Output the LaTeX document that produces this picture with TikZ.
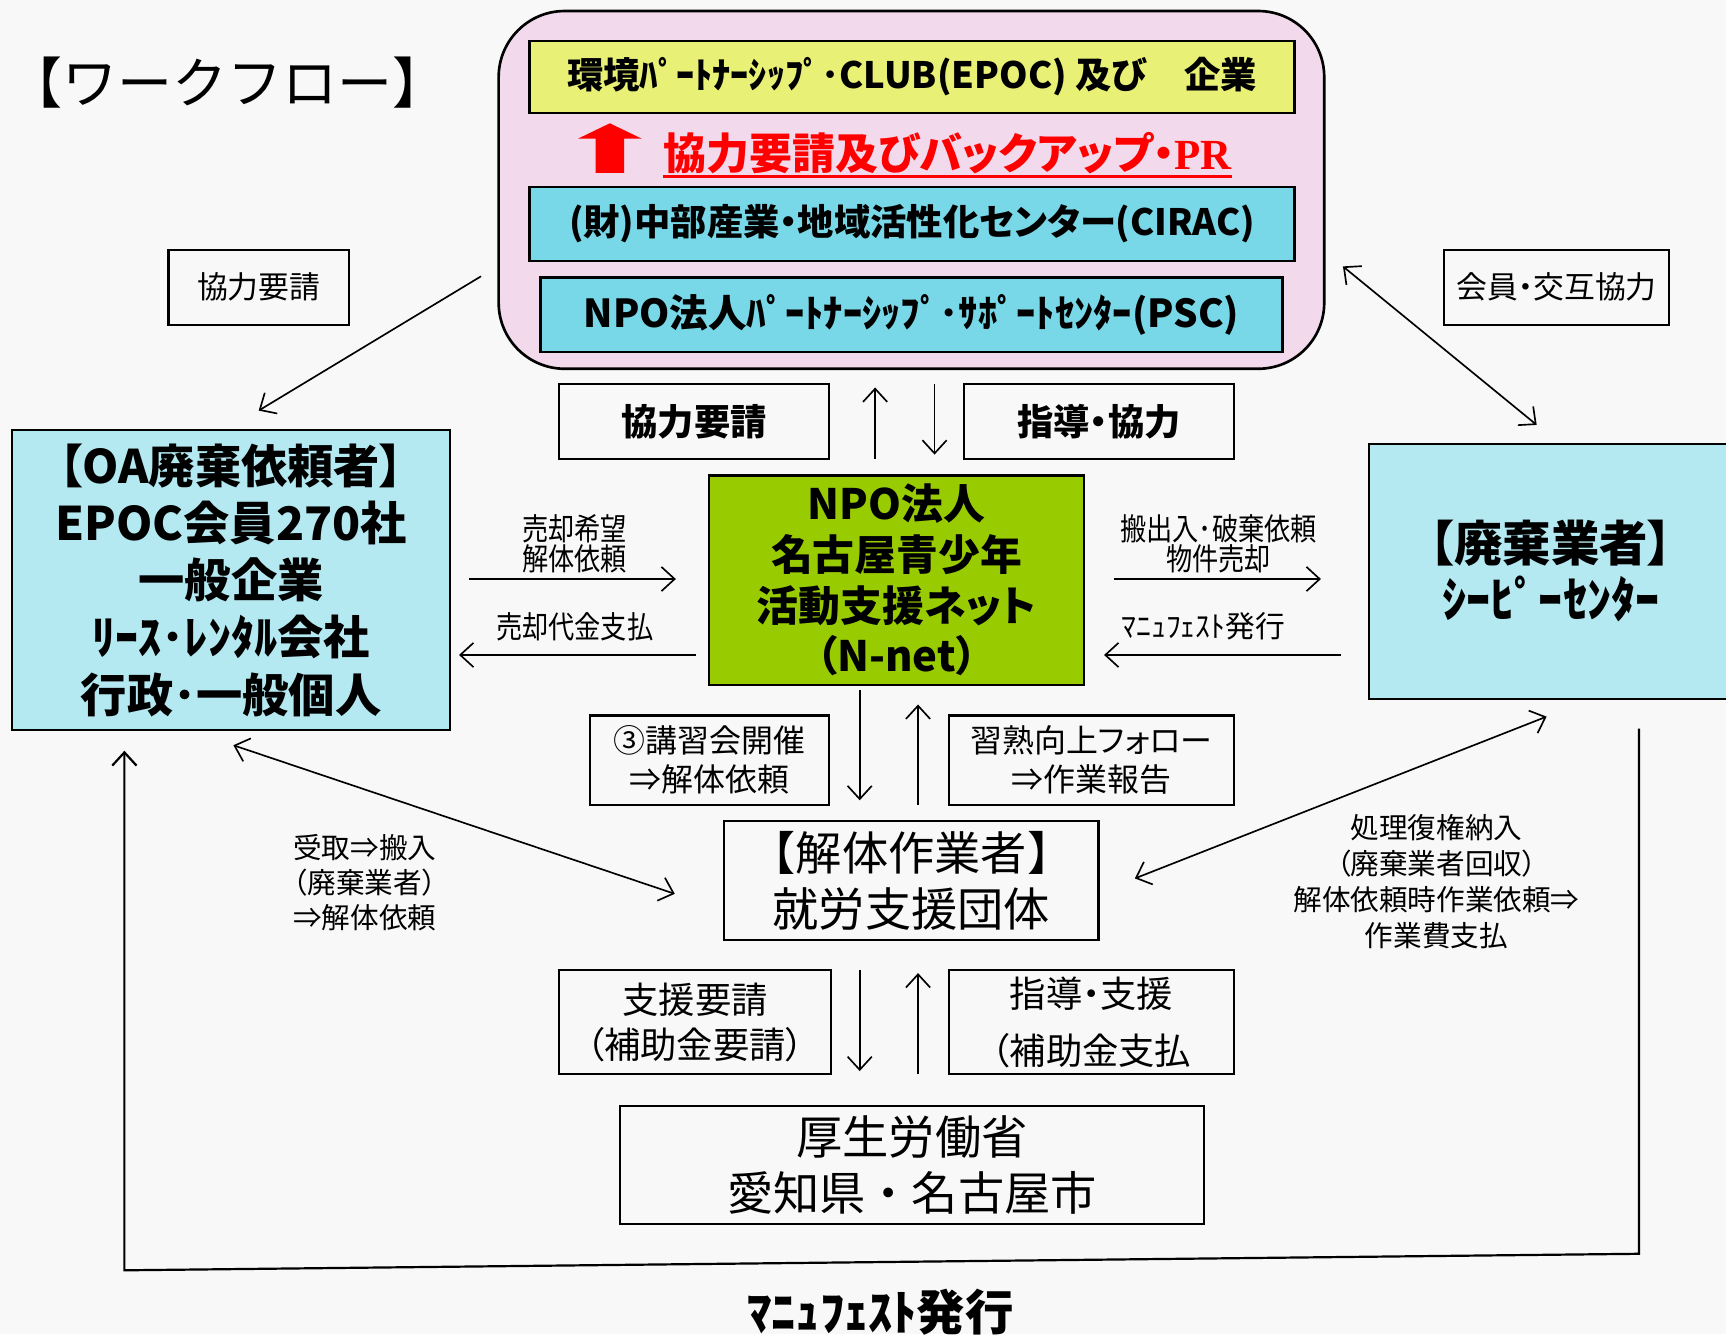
\documentclass[tikz,border=0pt]{standalone}
\usepackage{fontspec}
\usetikzlibrary{arrows.meta}
\newfontfamily\jp{Noto Sans CJK JP}
\newfontfamily\jpp{Noto Sans CJK JP}[RawFeature=+palt]
\newfontfamily\jpc{Noto Sans CJK JP}[RawFeature=+palt,FakeStretch=0.85]
\newfontfamily\lserb{Liberation Serif}[Scale=1.0]
\definecolor{bgc}{HTML}{F8F8F8}
\definecolor{pinkc}{HTML}{F2D9EB}
\definecolor{yellowc}{HTML}{E8F075}
\definecolor{cyanc}{HTML}{78D8E8}
\definecolor{lightc}{HTML}{B4E9F1}
\definecolor{greenc}{HTML}{99CC00}
\newcommand{\fs}[2]{\fontsize{#1}{#2}\selectfont}
\begin{document}
\begin{tikzpicture}[x=0.5pt,y=-0.5pt,
  box/.style={draw=black,line width=1pt,inner sep=0pt,align=center},
  lbl/.style={inner sep=0pt,align=center},
  arr/.style={line width=0.75pt,-{Straight Barb[length=6pt,width=11pt]}},
  darr/.style={line width=0.75pt,{Straight Barb[length=6pt,width=11pt]}-{Straight Barb[length=6pt,width=11pt]}}]
\fill[bgc] (0,0) rectangle (1568,1212);
\useasboundingbox (0,0) rectangle (1568,1212);

% title
\node[lbl,font={\jp\fs{25pt}{28pt}}] (title) at (207,75) {【ワークフロー】};

% top group
\node[draw=black,line width=1.2pt,fill=pinkc,rounded corners=30pt,minimum width=375pt,minimum height=162.5pt,inner sep=0pt] (group) at (828,172.5) {};
\node[box,fill=yellowc,minimum width=347.5pt,minimum height=33pt,font={\jp\bfseries\fs{16.5pt}{20pt}}] (epoc) at (828.5,70) {環境ﾊﾟｰﾄﾅｰｼｯﾌﾟ･CLUB(EPOC) 及び　企業};
\fill[red] (525,126) -- (554,112) -- (583,126) -- (567,126) -- (567,157) -- (541,157) -- (541,126) -- cycle;
\node[lbl,text=red,font={\jpp\bfseries\fs{19.5pt}{24pt}}] (redt) at (861,139) {協力要請及びバックアップ・{\lserb\bfseries PR}};
\draw[red,line width=1pt] ([yshift=-1pt]redt.south west) -- ([yshift=-1pt]redt.south east);
\node[box,fill=cyanc,minimum width=347.5pt,minimum height=33.5pt,font={\jpp\bfseries\fs{16.5pt}{20pt}}] (cirac) at (828.5,203.5) {(財)中部産業・地域活性化センター(CIRAC)};
\node[box,fill=cyanc,minimum width=337pt,minimum height=34pt,font={\jp\bfseries\fs{17.5pt}{20pt}}] (psc) at (828,286) {NPO法人ﾊﾟｰﾄﾅｰｼｯﾌﾟ･ｻﾎﾟｰﾄｾﾝﾀｰ(PSC)};

% side label boxes
\node[box,minimum width=82pt,minimum height=34pt,font={\jp\fs{14pt}{16pt}}] (req1) at (235,261) {協力要請};
\node[box,minimum width=102pt,minimum height=34pt,font={\jpp\fs{14pt}{16pt}}] (member) at (1414,261) {会員・交互協力};
\node[box,minimum width=122.5pt,minimum height=34pt,font={\jp\bfseries\fs{16.5pt}{18pt}}] (req2) at (630.5,383) {協力要請};
\node[box,minimum width=122.5pt,minimum height=34pt,font={\jpp\bfseries\fs{16.5pt}{18pt}}] (guide) at (998.5,383) {指導・協力};

% main nodes
\node[box,fill=greenc,minimum width=170.5pt,minimum height=95pt,font={\jpp\bfseries\fs{19pt}{23pt}}] (npo) at (814.5,527) {NPO法人\\名古屋青少年\\活動支援ネット\\（N-net）};
\node[box,fill=lightc,minimum width=199pt,minimum height=136.5pt,font={\jpp\bfseries\fs{21pt}{26pt}}] (left) at (210,527) {【OA廃棄依頼者】\\EPOC会員270社\\一般企業\\ﾘｰｽ･ﾚﾝﾀﾙ会社\\行政･一般個人};
\node[box,fill=lightc,minimum width=165pt,minimum height=116pt,font={\jpp\bfseries\fs{22pt}{25.5pt}}] (right) at (1409,519) {【廃棄業者】\\ｼｰﾋﾟｰｾﾝﾀｰ};

\node[box,minimum width=108.5pt,minimum height=40.5pt,font={\jp\fs{14.5pt}{17.5pt}}] (seminar) at (644.5,690.5) {③講習会開催\\⇒解体依頼};
\node[box,minimum width=129.5pt,minimum height=40.5pt,font={\jpp\fs{14.5pt}{17.5pt}}] (follow) at (991.5,690.5) {習熟向上フォロー\\⇒作業報告};
\node[box,minimum width=170pt,minimum height=54pt,font={\jp\fs{21pt}{25.5pt}}] (worker) at (828,800) {【解体作業者】\\就労支援団体};
\node[box,minimum width=123.5pt,minimum height=47.5pt,font={\jpp\fs{16.5pt}{20.5pt}}] (supreq) at (631.5,928.5) {支援要請\\（補助金要請）};
\node[box,minimum width=129.5pt,minimum height=47.5pt,font={\jpp\fs{16.5pt}{26pt}}] (guide2) at (991.5,928.5) {指導・支援\\（補助金支払};
\node[box,minimum width=265.5pt,minimum height=53.5pt,font={\jp\fs{21pt}{25.5pt}}] (gov) at (828.5,1058.5) {厚生労働省\\愛知県・名古屋市};

% arrow labels
\node[lbl,font={\jpc\fs{14pt}{14pt}}] (l1) at (522,494) {売却希望\\解体依頼};
\node[lbl,font={\jpc\fs{14pt}{14pt}}] (l2) at (522,569) {売却代金支払};
\node[lbl,font={\jpc\fs{14pt}{14pt}}] (l3) at (1107,494) {搬出入･破棄依頼\\物件売却};
\node[lbl,font={\jpp\fs{13.5pt}{14pt}}] (l4) at (1093,569) {ﾏﾆｭﾌｪｽﾄ発行};
\node[lbl,align=left,anchor=west,font={\jpp\fs{13pt}{16pt}}] (l5) at (266,802) {受取⇒搬入\\（廃棄業者）\\⇒解体依頼};
\node[lbl,font={\jpp\fs{13pt}{16.25pt}}] (l6) at (1305,801) {処理復権納入\\（廃棄業者回収）\\解体依頼時作業依頼⇒\\作業費支払};
\node[lbl,font={\jp\bfseries\fs{22pt}{24pt}}] (l7) at (800,1192) {ﾏﾆｭﾌｪｽﾄ発行};

% connector end points
\coordinate (a1s) at (437,251); \coordinate (a1e) at (235,373);
\coordinate (a2s) at (1220,242); \coordinate (a2e) at (1396,386);
\coordinate (a3s) at (795,417); \coordinate (a3e) at (795,352);
\coordinate (a4s) at (849,349); \coordinate (a4e) at (849,413);
\coordinate (a5s) at (426,526); \coordinate (a5e) at (614,526);
\coordinate (a6s) at (632,595); \coordinate (a6e) at (417,595);
\coordinate (a7s) at (1012,526); \coordinate (a7e) at (1200,526);
\coordinate (a8s) at (1218,595); \coordinate (a8e) at (1003,595);
\coordinate (a9s) at (781,627); \coordinate (a9e) at (781,727);
\coordinate (a10s) at (834,731); \coordinate (a10e) at (834,640);
\coordinate (a11s) at (212,677); \coordinate (a11e) at (613,812);
\coordinate (a12s) at (1405,651); \coordinate (a12e) at (1031,798);
\coordinate (a13s) at (781,881); \coordinate (a13e) at (781,973);
\coordinate (a14s) at (834,976); \coordinate (a14e) at (834,884);
\coordinate (lpS) at (1489,662); \coordinate (lpA) at (1489,1139);
\coordinate (lpB) at (113,1154); \coordinate (lpE) at (113,682);

\draw[arr] (a1s) -- (a1e);
\draw[darr] (a2s) -- (a2e);
\draw[arr] (a3s) -- (a3e);
\draw[arr] (a4s) -- (a4e);
\draw[arr] (a5s) -- (a5e);
\draw[arr] (a6s) -- (a6e);
\draw[arr] (a7s) -- (a7e);
\draw[arr] (a8s) -- (a8e);
\draw[arr] (a9s) -- (a9e);
\draw[arr] (a10s) -- (a10e);
\draw[darr] (a11s) -- (a11e);
\draw[darr] (a12s) -- (a12e);
\draw[arr] (a13s) -- (a13e);
\draw[arr] (a14s) -- (a14e);
\draw[arr,line width=1pt] (lpS) -- (lpA) -- (lpB) -- (lpE);
\end{tikzpicture}
\end{document}
